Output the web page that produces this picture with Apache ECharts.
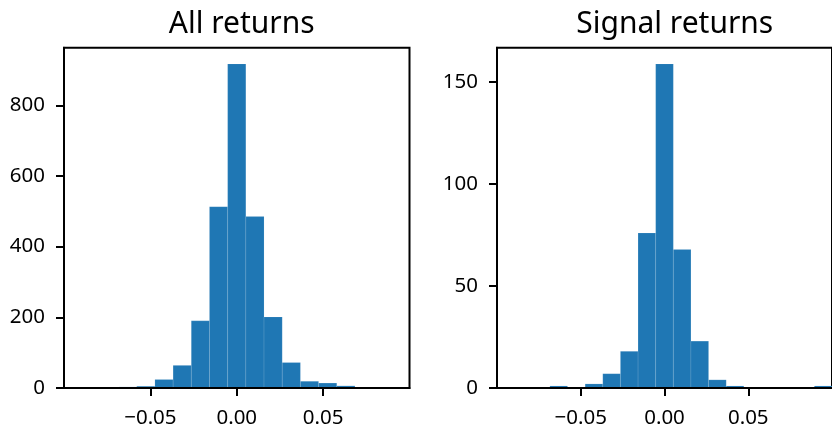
<!DOCTYPE html>
<html><head><meta charset="utf-8">
<script src="https://cdn.jsdelivr.net/npm/echarts@6/dist/echarts.min.js"></script>
<style>html,body{margin:0;padding:0;background:#fff}#c{width:832px;height:429px}</style>
</head><body><div id="c"></div>
<script>
// ---- data ----
const panelTitles = ['All returns', 'Signal returns'];
const binRange = [-0.1, 0.1];
const binCount = 19;
const allCounts = [0, 1, 0, 3, 5, 24, 64, 190, 513, 917, 485, 201, 72, 19, 14, 6, 0, 0, 1];
const signalCounts = [0, 0, 0, 1, 0, 2, 7, 18, 76, 159, 68, 23, 4, 1, 0, 0, 0, 0, 1];
const xTickValues = [-0.05, 0, 0.05];
const allYTicks = [0, 200, 400, 600, 800];
const signalYTicks = [0, 50, 100, 150];

// ---- build ----
const FONT = 'Noto Sans';
const binW = (binRange[1] - binRange[0]) / binCount;
function toBins(counts) {
  return counts.map((c, i) => [binRange[0] + i * binW, binRange[0] + (i + 1) * binW, c]);
}
function fmtX(v) {
  const s = Math.abs(v).toFixed(2);
  return v < -1e-12 ? '\u2212' + s : s;
}
function renderItem(params, api) {
  const lo = api.value(0), hi = api.value(1), c = api.value(2);
  if (!c) return null;
  const p0 = api.coord([lo, 0]);
  const p1 = api.coord([hi, c]);
  return {
    type: 'rect',
    shape: { x: p0[0], y: p1[1], width: p1[0] - p0[0], height: p0[1] - p1[1] },
    style: { fill: '#1f77b4', stroke: 'rgba(255,255,255,0.2)', lineWidth: 0.5 }
  };
}
const grids = [
  { left: 64, width: 345.5, top: 47.7, height: 340.6 },
  { left: 497, width: 345.5, top: 47.7, height: 340.6 }
];
const yMax = [Math.max(...allCounts) * 1.05, Math.max(...signalCounts) * 1.05];
const yTicks = [allYTicks, signalYTicks];
const counts = [allCounts, signalCounts];

const option = {
  animation: false,
  backgroundColor: '#fff',
  title: grids.map((g, i) => ({
    text: panelTitles[i],
    left: g.left + g.width / 2,
    textAlign: 'center',
    top: 4,
    textStyle: { fontFamily: FONT, fontSize: 30, fontWeight: 'normal', color: '#000' }
  })),
  grid: grids.map(g => Object.assign({ show: true, borderColor: '#000', borderWidth: 2, backgroundColor: 'transparent' }, g)),
  xAxis: grids.map((g, i) => ({
    type: 'value', gridIndex: i, min: binRange[0], max: binRange[1], interval: 0.05, z: 10,
    axisLine: { show: true, onZero: false, lineStyle: { color: '#000', width: 2 } },
    axisTick: { show: true, length: 8, lineStyle: { color: '#000', width: 2 }, customValues: xTickValues },
    axisLabel: { customValues: xTickValues, formatter: fmtX, margin: 20, color: '#000', fontFamily: FONT, fontSize: 20.5 },
    splitLine: { show: false }
  })),
  yAxis: grids.map((g, i) => ({
    type: 'value', gridIndex: i, min: 0, max: yMax[i], z: 10,
    axisLine: { show: true, onZero: false, lineStyle: { color: '#000', width: 2 } },
    axisTick: { show: true, length: 8, lineStyle: { color: '#000', width: 2 }, customValues: yTicks[i] },
    axisLabel: { customValues: yTicks[i], margin: 19, color: '#000', fontFamily: FONT, fontSize: 20.5 },
    splitLine: { show: false }
  })),
  series: counts.map((c, i) => ({
    type: 'custom', xAxisIndex: i, yAxisIndex: i,
    renderItem: renderItem,
    encode: { x: [0, 1], y: 2 },
    data: toBins(c)
  }))
};
const chart = echarts.init(document.getElementById('c'), null, { renderer: 'canvas' });
chart.setOption(option);
</script></body></html>
